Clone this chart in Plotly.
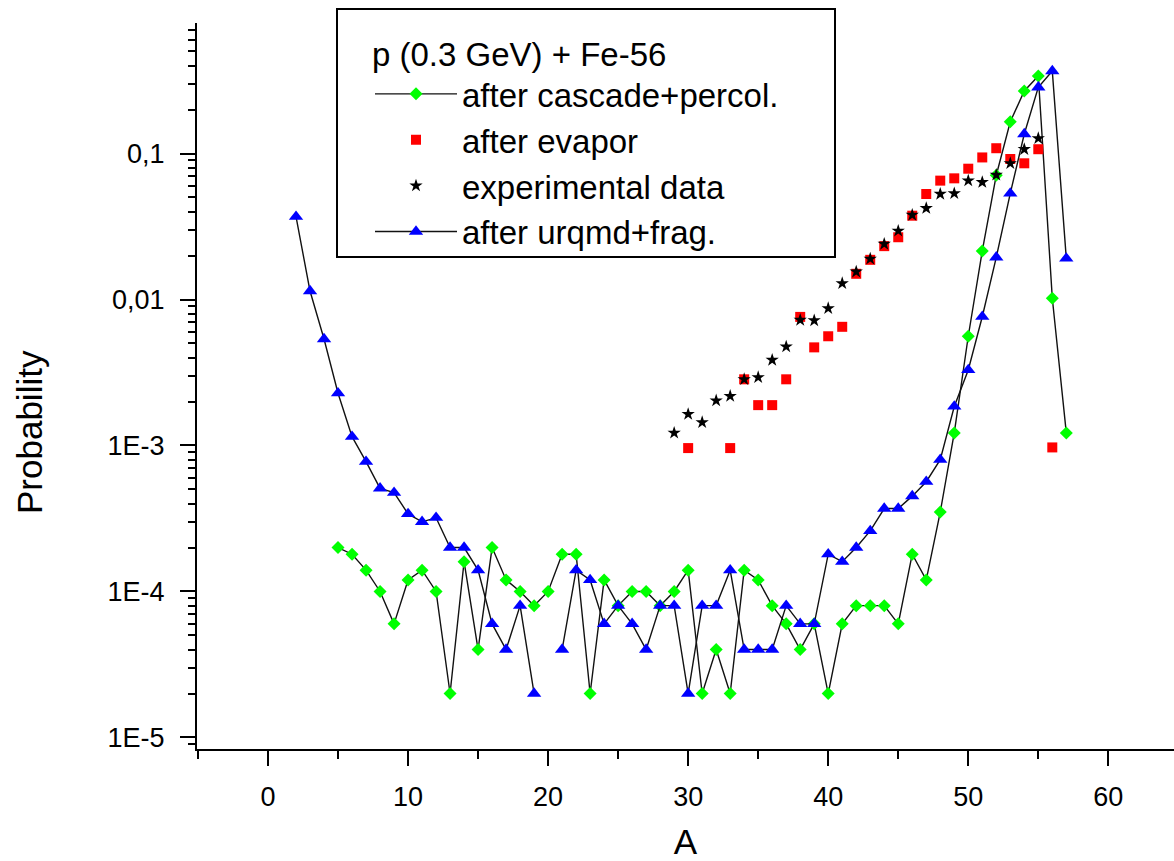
import plotly.graph_objects as go

# ---- data ----
A_casc = list(range(5, 58))
p_casc = [2e-4, 1.8e-4, 1.4e-4, 1e-4, 6e-5, 1.2e-4, 1.4e-4, 1e-4, 2e-5, 1.6e-4,
          4e-5, 2e-4, 1.2e-4, 1e-4, 8e-5, 1e-4, 1.8e-4, 1.8e-4, 2e-5, 1.2e-4,
          8e-5, 1e-4, 1e-4, 8e-5, 1e-4, 1.4e-4, 2e-5, 4e-5, 2e-5, 1.4e-4,
          1.2e-4, 8e-5, 6e-5, 4e-5, 6e-5, 2e-5, 6e-5, 8e-5, 8e-5, 8e-5,
          6e-5, 1.8e-4, 1.2e-4, 3.5e-4, 1.22e-3, 5.6e-3, 0.0215, 0.071, 0.165, 0.268,
          0.34, 0.0102, 1.22e-3]

A_evap = [30, 33, 34, 35, 36, 37, 38, 39, 40, 41, 42, 43, 44, 45, 46, 47, 48,
          49, 50, 51, 52, 53, 54, 55, 56]
p_evap = [9.6e-4, 9.6e-4, 2.84e-3, 1.89e-3, 1.89e-3, 2.84e-3, 7.6e-3, 4.7e-3,
          5.6e-3, 6.5e-3, 0.015, 0.0187, 0.0232, 0.0267, 0.0375, 0.0528, 0.0652,
          0.0676, 0.0787, 0.094, 0.1087, 0.0917, 0.0857, 0.107, 9.7e-4]

A_exp = list(range(29, 56))
p_exp = [1.22e-3, 1.64e-3, 1.44e-3, 2.03e-3, 2.18e-3, 2.84e-3, 2.93e-3, 3.85e-3,
         4.75e-3, 7.24e-3, 7.18e-3, 8.7e-3, 0.0129, 0.0155, 0.019, 0.024, 0.0295,
         0.0379, 0.0422, 0.0528, 0.0533, 0.0652, 0.0636, 0.0713, 0.0857, 0.107, 0.127]

A_urqmd = list(range(2, 58))
p_urqmd = [0.0369, 0.01143, 0.00536, 0.00228, 0.00115, 7.75e-4, 5.09e-4, 4.75e-4,
           3.4e-4, 3e-4, 3.2e-4, 2e-4, 2e-4, 1.4e-4, 6e-5, 4e-5, 8e-5, 2e-5,
           None, 4e-5, 1.4e-4, 1.2e-4, 6e-5, 8e-5, 6e-5, 4e-5, 8e-5, 8e-5,
           2e-5, 8e-5, 8e-5, 1.4e-4, 4e-5, 4e-5, 4e-5, 8e-5, 6e-5, 6e-5,
           1.8e-4, 1.6e-4, 2e-4, 2.6e-4, 3.7e-4, 3.7e-4, 4.5e-4, 5.65e-4, 8e-4,
           1.85e-3, 3.29e-3, 7.62e-3, 0.01945, 0.0533, 0.136, 0.284, 0.367, 0.0191]

x_ticks = [0, 10, 20, 30, 40, 50, 60]
y_ticks = [1e-5, 1e-4, 1e-3, 1e-2, 1e-1]
y_ticktext = ["1E-5", "1E-4", "1E-3", "0,01", "0,1"]
legend_title = "p (0.3 GeV) + Fe-56"

FONT = "Liberation Sans, Arial, sans-serif"
LINE = dict(color="#111111", width=1.4)

fig = go.Figure()
fig.add_trace(go.Scatter(
    x=A_casc, y=p_casc, mode="lines+markers", name="after cascade+percol.",
    line=LINE, marker=dict(symbol="diamond", size=10, color="#00FF00", line=dict(width=0))))
fig.add_trace(go.Scatter(
    x=A_evap, y=p_evap, mode="markers", name="after evapor",
    marker=dict(symbol="square", size=10, color="#FF0000", line=dict(width=0))))
fig.add_trace(go.Scatter(
    x=A_exp, y=p_exp, mode="markers", name="experimental data",
    marker=dict(symbol="star", size=10, color="#000000", line=dict(width=0))))
fig.add_trace(go.Scatter(
    x=A_urqmd, y=p_urqmd, mode="lines+markers", name="after urqmd+frag.",
    connectgaps=False,
    line=LINE, marker=dict(symbol="triangle-up", size=12.5, color="#0000FF", line=dict(width=0))))

minor_y = [m * 10.0 ** e for e in range(-6, 0) for m in range(2, 10)]

L, R, T, B = 197, 0, 23, 112
W, H = 1174, 861
pw, ph = W - L - R, H - T - B

def px2paper_x(px):
    return (px - L) / pw

def px2paper_y(py):
    return (H - B - py) / ph

fig.update_layout(
    width=W, height=H,
    margin=dict(l=L, r=R, t=T, b=B, pad=0),
    paper_bgcolor="white", plot_bgcolor="white",
    font=dict(family=FONT, color="black"),
    showlegend=True,
    legend=dict(
        x=px2paper_x(370), y=px2paper_y(23), xanchor="left", yanchor="top",
        bgcolor="rgba(0,0,0,0)", borderwidth=0,
        font=dict(size=33, family=FONT, color="black"),
        title=dict(text=legend_title, font=dict(size=33, family=FONT, color="black")),
        itemwidth=82, tracegroupgap=0,
    ),
    xaxis=dict(
        range=[-5.07, 64.69], showgrid=False, zeroline=False,
        showline=True, linecolor="black", linewidth=2,
        ticks="outside", ticklen=15, tickwidth=2, tickcolor="black",
        tickmode="array", tickvals=x_ticks,
        tickfont=dict(size=27, family=FONT, color="black"),
        minor=dict(dtick=5, tick0=0, ticks="outside", ticklen=8, tickwidth=2,
                   tickcolor="black", showgrid=False),
        title=dict(text="A", font=dict(size=35, family=FONT, color="black"), standoff=22),
        ticklabelstandoff=8,
    ),
    yaxis=dict(
        type="log", range=[-5.079, -0.106], showgrid=False, zeroline=False,
        showline=True, linecolor="black", linewidth=2,
        ticks="outside", ticklen=15, tickwidth=2, tickcolor="black",
        tickmode="array", tickvals=y_ticks, ticktext=y_ticktext,
        tickfont=dict(size=27, family=FONT, color="black"),
        minor=dict(tickmode="array", tickvals=minor_y, ticks="outside", ticklen=7,
                   tickwidth=2, tickcolor="black", showgrid=False),
        ticklabelstandoff=10,
    ),
    shapes=[dict(
        type="rect", xref="paper", yref="paper",
        x0=px2paper_x(337), x1=px2paper_x(835),
        y0=px2paper_y(257), y1=px2paper_y(9),
        line=dict(color="black", width=2), fillcolor="white", layer="above")],
    annotations=[dict(
        text="Probability", xref="paper", yref="paper",
        x=px2paper_x(29), y=px2paper_y(432), xanchor="center", yanchor="middle",
        textangle=-90, showarrow=False,
        font=dict(size=35, family=FONT, color="black"))],
)

fig.write_html("out.html")
